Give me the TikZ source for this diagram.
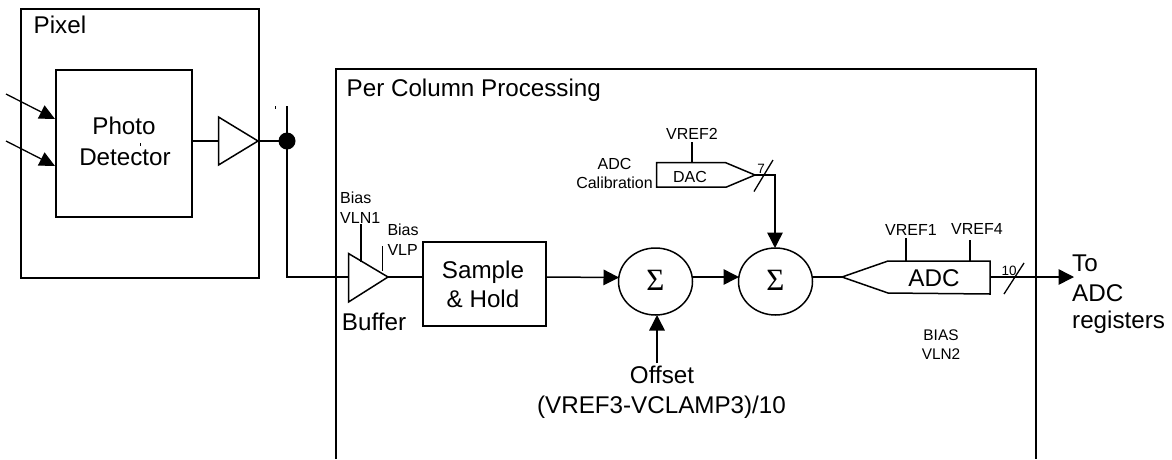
\documentclass[tikz,border=0pt]{standalone}
\usepackage{fontspec}
\setmainfont{Liberation Sans}
\newfontfamily\sigmafont{Liberation Serif}
\usetikzlibrary{arrows.meta,shapes.geometric}
\tikzset{
  wire/.style={line width=1.5pt,line join=miter,black},
  thin wire/.style={line width=1.3pt,black},
  flow/.style={wire,-{Triangle[length=15.5pt,width=15.5pt]}},
  block/.style={draw,line width=1.5pt,inner sep=0pt,anchor=north west},
  big/.style={inner sep=0pt,font=\fontsize{24.2}{26}\selectfont},
  small/.style={inner sep=0pt,font=\fontsize{16}{18}\selectfont},
  tiny label/.style={inner sep=0pt,font=\fontsize{13.5}{15}\selectfont},
  sumnode/.style={draw,ellipse,line width=1.5pt,inner sep=0pt,minimum width=74pt,minimum height=67pt,font=\sigmafont\fontsize{31}{31}\selectfont},
  dotnode/.style={circle,fill=black,inner sep=0pt,minimum size=17pt}
}
\begin{document}
\begin{tikzpicture}[x=1pt,y=-1pt]
\useasboundingbox (0,0) rectangle (1172,459);
\fill[white] (0,0) rectangle (1172,459);

% Boxes
\node[block,minimum width=238pt,minimum height=269pt] (pixel) at (20,8) {};
\node[block,minimum width=136pt,minimum height=147pt] (pd) at (55,69) {};
\node[block,minimum width=123pt,minimum height=84pt] (sh) at (422,241) {};
\coordinate (pcbl) at (336,459); \coordinate (pctl) at (336,69);
\coordinate (pctr) at (1036,69); \coordinate (pcbr) at (1036,459);
\draw[wire] (pcbl) -- (pctl) -- (pctr) -- (pcbr);

% Box texts
\node[big,anchor=base west] (tpixel) at (33.5,33.7) {Pixel};
\node[big,anchor=base west] (tpc) at (346.5,96.7) {Per Column Processing};
\node[big,anchor=base] (tphoto) at (124,134) {Photo};
\node[big,anchor=base] (tdet) at (125,165) {Detector};
\node[big,anchor=base] (tsample) at (483,278) {Sample};
\node[big,anchor=base] (thold) at (483,307) {\& Hold};

% Light arrows
\coordinate (l1) at (6,94); \coordinate (l1e) at (55,119);
\coordinate (l2) at (6,141); \coordinate (l2e) at (55,166);
\draw[thin wire,-{Triangle[length=15.5pt,width=14.5pt]}] (l1) -- (l1e);
\draw[thin wire,-{Triangle[length=15.5pt,width=14.5pt]}] (l2) -- (l2e);

% Pixel amplifier
\coordinate (a1) at (218.5,117); \coordinate (a2) at (218.5,165); \coordinate (a3) at (258,141);
\coordinate (a0) at (218.5,141); \coordinate (pdout) at (191,141);
\draw[wire] (a1) -- (a3) -- (a2) -- cycle;
\draw[wire] (pdout) -- (a0);
\node[dotnode] (dot) at (287,141) {};
\coordinate (stub) at (287,106);
\coordinate (bufcorner) at (287,277);
\coordinate (b0) at (348.5,277);
\draw[wire] (a3) -- (dot.center);
\draw[wire] (stub) -- (dot.center) -- (bufcorner) -- (b0);
% stray ticks of the drawing
\coordinate (t1) at (275.5,106); \coordinate (t1e) at (275.5,109);
\coordinate (t2) at (140.5,143); \coordinate (t2e) at (140.5,146);
\draw[line width=0.7pt] (t1) -- (t1e);
\draw[line width=0.7pt] (t2) -- (t2e);

% Buffer
\coordinate (b1) at (348.5,253.5); \coordinate (b2) at (348.5,302); \coordinate (b3) at (388,277);
\draw[wire] (b1) -- (b3) -- (b2) -- cycle;
\draw[wire] (b3) -- (sh.west |- b3);
\coordinate (vln) at (361,224); \coordinate (vlne) at (361,262);
\coordinate (vlp) at (382.5,246); \coordinate (vlpe) at (382.5,271);
\draw[thin wire] (vln) -- (vlne);
\draw[thin wire] (vlp) -- (vlpe);
\node[small,anchor=base west] (tb1) at (340,203) {Bias};
\node[small,anchor=base west] (tv1) at (340,223) {VLN1};
\node[small,anchor=base west] (tb2) at (387.3,235) {Bias};
\node[small,anchor=base west] (tv2) at (387.3,255) {VLP};
\node[big,anchor=base] (tbuf) at (374,330) {Buffer};

% Summers
\node[sumnode] (s1) at (655.5,281.5) {\raisebox{2pt}{Σ}};
\node[sumnode] (s2) at (775.5,281.5) {\raisebox{2pt}{Σ}};
\coordinate (shout) at (545,277); \coordinate (s1in) at (619,277.5);
\draw[flow] (shout) -- (s1in);
\coordinate (s1out) at (692,277); \coordinate (s2in) at (739,277);
\draw[flow] (s1out) -- (s2in);
\coordinate (offs) at (657,363); \coordinate (offe) at (657,315);
\draw[flow] (offs) -- (offe);
\node[big,anchor=base] (toff) at (662,383.5) {Offset};
\node[big,anchor=base] (toff2) at (661.5,413) {(VREF3-VCLAMP3)/10};

% DAC
\coordinate (d1) at (656.7,162.7); \coordinate (d2) at (725.7,162.7); \coordinate (d3) at (755,175);
\coordinate (d4) at (726.5,187); \coordinate (d5) at (656.7,187);
\draw[wire] (d1) -- (d2) -- (d3) -- (d4) -- (d5) -- cycle;
\node[small,anchor=base] (tdac) at (690,182.5) {DAC};
\coordinate (dv) at (692,142); \coordinate (dve) at (692,162.7);
\draw[thin wire] (dv) -- (dve);
\node[small,anchor=base] (tvref2) at (692,139) {VREF2};
\node[small,anchor=base] (tcal1) at (614.5,169) {ADC};
\node[small,anchor=base] (tcal2) at (614.5,188) {Calibration};
\coordinate (dcorner) at (775,175); \coordinate (s2top) at (775,248);
\draw[flow] (d3) -- (dcorner) -- (s2top);
\coordinate (sl1) at (754,191.5); \coordinate (sl1e) at (773,160);
\draw[thin wire] (sl1) -- (sl1e);
\node[tiny label,anchor=base] (t7) at (761,173) {7};

% ADC
\coordinate (c1) at (842,277); \coordinate (c2) at (888,261); \coordinate (c3) at (990,261);
\coordinate (c4) at (990,294); \coordinate (c5) at (888,293);
\draw[wire] (c1) -- (c2) -- (c3) -- (c4) -- (c5) -- cycle;
\node[big,anchor=base] (tadc) at (934,286.5) {ADC};
\coordinate (s2out) at (812,277);
\draw[wire] (s2out) -- (c1);
\coordinate (v1) at (906,238); \coordinate (v1e) at (906,261);
\coordinate (v4) at (970,240); \coordinate (v4e) at (970,261);
\draw[thin wire] (v1) -- (v1e);
\draw[thin wire] (v4) -- (v4e);
\node[small,anchor=base] (tvref1) at (911,235) {VREF1};
\node[small,anchor=base] (tvref4) at (977,234) {VREF4};
\coordinate (cout) at (990,277); \coordinate (ctip) at (1074,277);
\draw[flow] (cout) -- (ctip);
\coordinate (sl2) at (1004,294); \coordinate (sl2e) at (1024,263);
\draw[thin wire] (sl2) -- (sl2e);
\node[tiny label,anchor=base] (t10) at (1009,275) {10};
\node[big,anchor=base west] (tto) at (1072,271) {To};
\node[big,anchor=base west] (tto2) at (1072,301) {ADC};
\node[big,anchor=base west] (tto3) at (1072,328) {registers};
\node[inner sep=0pt,font=\fontsize{15.4}{17}\selectfont,anchor=base] (tbias) at (941,340.5) {BIAS};
\node[inner sep=0pt,font=\fontsize{15.4}{17}\selectfont,anchor=base] (tvln2) at (941,359.5) {VLN2};
\end{tikzpicture}
\end{document}
